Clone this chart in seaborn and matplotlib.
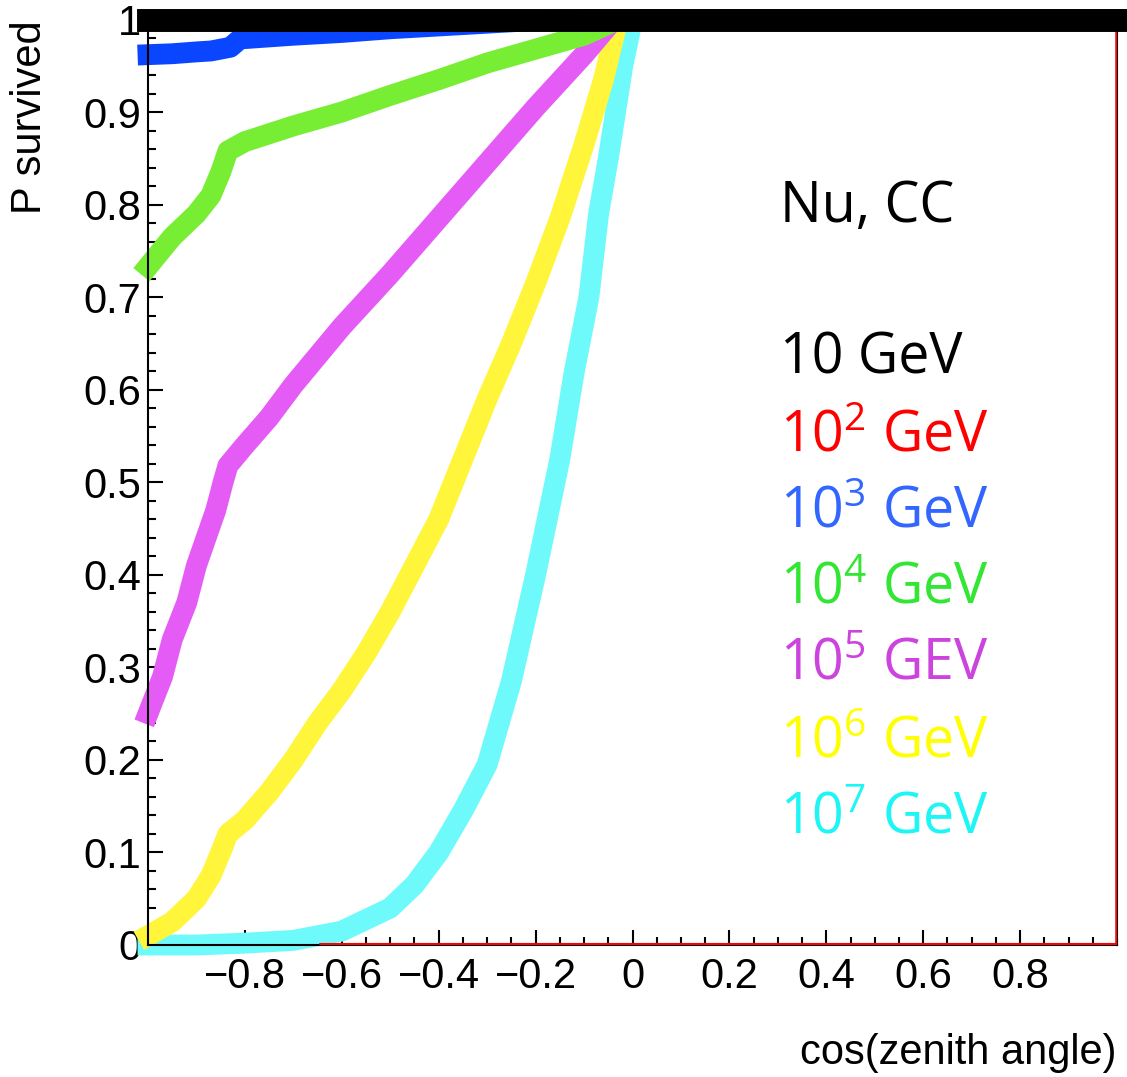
import numpy as np
import pandas as pd
import matplotlib
matplotlib.use("Agg")
import matplotlib.pyplot as plt
import seaborn as sns
from matplotlib.ticker import MultipleLocator, FixedLocator, FuncFormatter

# ---------------- data ----------------
cos_10 = [-1.0, -0.5, 0.0, 0.5, 1.0]
p_10 = [1.0, 1.0, 1.0, 1.0, 1.0]

cos_1e2 = [-1.0, -0.5, 0.0, 0.5, 1.0]
p_1e2 = [1.0, 1.0, 1.0, 1.0, 1.0]

cos_1e3 = [-1.0, -0.95, -0.9, -0.87, -0.83, -0.81, -0.7, -0.6, -0.5, -0.4, -0.3, -0.2, -0.1, 0.0, 1.0]
p_1e3 = [0.962, 0.963, 0.965, 0.966, 0.970, 0.979, 0.983, 0.986, 0.990, 0.993, 0.996, 0.999, 1.0, 1.0, 1.0]

cos_1e4 = [-1.0, -0.95, -0.9, -0.87, -0.85, -0.835, -0.8, -0.7, -0.6, -0.5, -0.4, -0.3,
           -0.2, -0.1, -0.05, -0.03, 0.0, 1.0]
p_1e4 = [0.733, 0.765, 0.79, 0.81, 0.835, 0.858, 0.868, 0.885, 0.9, 0.918, 0.935, 0.953,
         0.968, 0.983, 0.995, 1.0, 1.0, 1.0]

cos_1e5 = [-1.0, -0.97, -0.95, -0.92, -0.9, -0.88, -0.86, -0.845, -0.835, -0.8, -0.75, -0.7,
           -0.6, -0.5, -0.4, -0.3, -0.2, -0.1, -0.05, -0.04, 0.0, 1.0]
p_1e5 = [0.25, 0.29, 0.33, 0.37, 0.41, 0.44, 0.47, 0.5, 0.518, 0.54, 0.57, 0.605,
         0.668, 0.725, 0.785, 0.845, 0.905, 0.962, 0.993, 1.0, 1.0, 1.0]

cos_1e6 = [-1.0, -0.95, -0.9, -0.87, -0.85, -0.835, -0.8, -0.75, -0.7, -0.65, -0.6, -0.55,
           -0.5, -0.45, -0.4, -0.35, -0.3, -0.25, -0.2, -0.15, -0.1, -0.06, -0.03, 0.0, 1.0]
p_1e6 = [0.01, 0.025, 0.05, 0.075, 0.1, 0.12, 0.135, 0.165, 0.2, 0.24, 0.275, 0.315,
         0.36, 0.41, 0.46, 0.525, 0.59, 0.65, 0.715, 0.785, 0.865, 0.935, 1.0, 1.0, 1.0]

cos_1e7 = [-1.0, -0.9, -0.8, -0.7, -0.6, -0.5, -0.45, -0.4, -0.35, -0.3, -0.25, -0.2,
           -0.15, -0.12, -0.09, -0.07, -0.05, -0.035, -0.02, 0.0, 1.0]
p_1e7 = [0.0, 0.0, 0.002, 0.005, 0.015, 0.04, 0.065, 0.1, 0.145, 0.195, 0.285, 0.4,
         0.525, 0.62, 0.7, 0.79, 0.85, 0.9, 0.95, 1.0, 1.0]

x_ticks = [-0.8, -0.6, -0.4, -0.2, 0.0, 0.2, 0.4, 0.6, 0.8]
y_ticks = [0.0, 0.1, 0.2, 0.3, 0.4, 0.5, 0.6, 0.7, 0.8, 0.9, 1.0]

legend_labels = ["10 GeV", "10$^{\\mathrm{2}}$ GeV", "10$^{\\mathrm{3}}$ GeV", "10$^{\\mathrm{4}}$ GeV",
                 "10$^{\\mathrm{5}}$ GEV", "10$^{\\mathrm{6}}$ GeV", "10$^{\\mathrm{7}}$ GeV"]
legend_colors = ["#000000", "#ff0000", "#3366ff", "#33e633", "#cc44dd", "#ffff00", "#1ef5f5"]

# ---------------- style ----------------
sns.set_theme(style="ticks")
plt.rcParams["font.family"] = ["Liberation Sans", "DejaVu Sans"]
plt.rcParams["mathtext.fontset"] = "custom"
plt.rcParams["mathtext.rm"] = "Open Sans"
plt.rcParams["axes.unicode_minus"] = True
plt.rcParams["text.color"] = "black"

W, H = 1127, 1077
fig = plt.figure(figsize=(W / 100, H / 100), dpi=100)
ax = fig.add_axes([148 / W, 132 / H, (1117 - 148) / W, (945 - 19.5) / H])

series = [
    (cos_1e7, p_1e7, "#6efafa", 15),
    (cos_1e6, p_1e6, "#fff53a", 15),
    (cos_1e5, p_1e5, "#e45cf5", 15),
    (cos_1e4, p_1e4, "#77ee33", 15),
    (cos_1e3, p_1e3, "#0a46ff", 15),
    (cos_1e2, p_1e2, "#ff0000", 15),
    (cos_10, p_10, "#000000", 16.5),
]
for i, (xs, ys, col, lw) in enumerate(series):
    df = pd.DataFrame({"cos": xs, "p": ys})
    sns.lineplot(data=df, x="cos", y="p", ax=ax, color=col, linewidth=lw,
                 sort=False, estimator=None, solid_capstyle="projecting",
                 clip_on=False, zorder=2 + 0.01 * i)
# black 10 GeV band sits above everything
ax.lines[-1].set_zorder(5)

ax.set_xlim(-1, 1)
ax.set_ylim(0, 1)
ax.set_xlabel("")
ax.set_ylabel("")

ax.xaxis.set_major_locator(FixedLocator(x_ticks))
ax.xaxis.set_minor_locator(MultipleLocator(0.05))
ax.yaxis.set_major_locator(FixedLocator(y_ticks))
ax.yaxis.set_minor_locator(MultipleLocator(0.02))
ax.xaxis.set_major_formatter(FuncFormatter(lambda v, p: "0" if abs(v) < 1e-9 else f"{v:.1f}".replace("-", "\u2212")))
ax.yaxis.set_major_formatter(FuncFormatter(lambda v, p: "0" if abs(v) < 1e-9 else ("1" if abs(v - 1) < 1e-9 else f"{v:.1f}")))

ax.tick_params(axis="both", which="both", direction="in", colors="black", width=1.5,
               top=False, right=False)
ax.tick_params(axis="both", which="major", length=11, labelsize=30)
ax.tick_params(axis="both", which="minor", length=5.5)
ax.tick_params(axis="y", which="major", pad=5)
ax.tick_params(axis="x", which="major", pad=9)

for s in ["left", "bottom", "right", "top"]:
    ax.spines[s].set_visible(True)
    ax.spines[s].set_color("black")
    ax.spines[s].set_linewidth(1.5)
    ax.spines[s].set_zorder(3)

# red frame of the 10^2 GeV graph
ax.axhline(0.0015, xmin=0.1775, xmax=1.0, color="red", lw=1.5, zorder=3.1)
ax.axvline(0.997, color="red", lw=1.8, zorder=3.1)

# axis titles (ROOT style)
fig.text(30 / W, 1 - 20 / H, "P survived", rotation=90, ha="center", va="top",
         fontsize=30, color="black")
fig.text(1117 / W, 1 - 1053 / H, "cos(zenith angle)", ha="right", va="center",
         fontsize=30, color="black")

# text legend
fig.text(780 / W, 1 - 222 / H, "Nu, CC", ha="left", va="baseline", fontsize=40,
         family=["Open Sans", "DejaVu Sans"], color="black")
baselines = [373, 452, 528, 603, 680, 757, 833]
for lab, col, b in zip(legend_labels, legend_colors, baselines):
    fig.text(780 / W, 1 - b / H, lab, ha="left", va="baseline", fontsize=40,
             family=["Open Sans", "DejaVu Sans"], color=col)

fig.savefig("out.png", dpi=100)
